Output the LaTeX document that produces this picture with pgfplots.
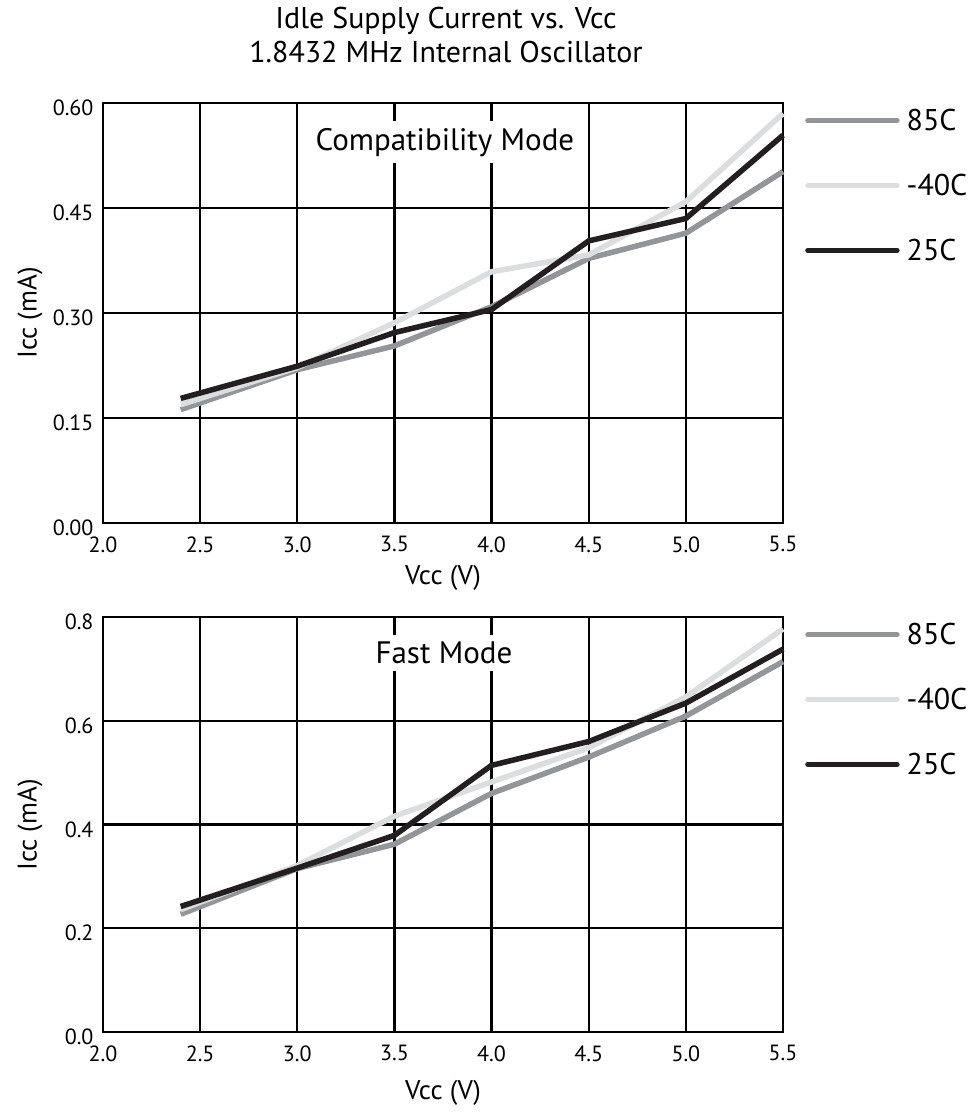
\documentclass[border=0pt]{standalone}
\usepackage{fontspec}
\setmainfont{PT Sans}
\usepackage{pgfplots}
\pgfplotsset{compat=1.18}
\definecolor{c85}{HTML}{939598}
\definecolor{c40}{HTML}{DCDDDE}
\definecolor{c25}{HTML}{231F20}
\tikzset{
  ann/.style={fill=white, inner xsep=6pt, inner ysep=7pt, font=\fontsize{31}{31}\selectfont},
}
\pgfplotsset{
  myaxis/.style={
    scale only axis, width=680pt, anchor=south west,
    xmin=2, xmax=5.5, xtick={2,2.5,3,3.5,4,4.5,5,5.5},
    grid=major, major grid style={black, line width=2.2pt},
    axis line style={black, line width=2.5pt},
    tick style={draw=none},
    clip=false,
    /pgf/number format/assume math mode=true,
    tick label style={font=\fontsize{22}{22}\selectfont},
    xticklabel style={yshift=-10pt, /pgf/number format/.cd, fixed, fixed zerofill, precision=1},
    legend style={draw=none, fill=none, anchor=north west, at={(rel axis cs:1,1)}, xshift=22pt, yshift=-6pt,
      font=\fontsize{30}{30}\selectfont, row sep=42pt, inner sep=0pt, column sep=0pt,
      nodes={inner sep=0pt}},
    legend cell align=left,
    legend image code/.code={\draw[#1, line cap=round] (0pt,0pt) -- (89pt,0pt); \path (96pt,0pt);},
  },
  s85/.style={c85, line width=5.5pt},
  s40/.style={c40, line width=5.5pt},
  s25/.style={c25, line width=5.5pt},
}
\begin{document}
\begin{tikzpicture}
\path[use as bounding box] (0,0) rectangle (979pt,1112pt);
\node[font=\fontsize{30}{30}\selectfont, anchor=base] at (446pt,1083pt) {Idle Supply Current vs. Vcc};
\node[font=\fontsize{30}{30}\selectfont, anchor=base] at (446pt,1049pt) {1.8432 MHz Internal Oscillator};
\begin{axis}[myaxis, at={(103pt,589pt)}, height=420pt,
  ymin=0, ymax=0.6, ytick={0,0.15,0.3,0.45,0.6},
  yticklabel style={xshift=-6pt, yshift=-5pt, /pgf/number format/.cd, fixed, fixed zerofill, precision=2}]
\addplot[s85] coordinates {(2.4,0.162) (3.0,0.219) (3.5,0.253) (4.0,0.309) (4.5,0.378) (5.0,0.414) (5.5,0.502)};
\addplot[s40] coordinates {(2.4,0.169) (3.0,0.222) (3.5,0.286) (4.0,0.359) (4.5,0.383) (5.0,0.459) (5.5,0.585)};
\addplot[s25] coordinates {(2.4,0.178) (3.0,0.224) (3.5,0.272) (4.0,0.305) (4.5,0.403) (5.0,0.435) (5.5,0.554)};
\legend{85C,-40C,25C}
\node[ann] at (axis cs:3.76,0.544) {Compatibility Mode};
\end{axis}
\begin{axis}[myaxis, at={(103pt,80pt)}, height=415pt,
  ymin=0, ymax=0.8, ytick={0,0.2,0.4,0.6,0.8},
  yticklabel style={xshift=-6pt, yshift=-5pt, /pgf/number format/.cd, fixed, fixed zerofill, precision=1}]
\addplot[s85] coordinates {(2.4,0.227) (3.0,0.315) (3.5,0.362) (4.0,0.460) (4.5,0.530) (5.0,0.609) (5.5,0.714)};
\addplot[s40] coordinates {(2.4,0.236) (3.0,0.321) (3.5,0.416) (4.0,0.482) (4.5,0.548) (5.0,0.646) (5.5,0.777)};
\addplot[s25] coordinates {(2.4,0.242) (3.0,0.316) (3.5,0.379) (4.0,0.514) (4.5,0.560) (5.0,0.634) (5.5,0.738)};
\legend{85C,-40C,25C}
\node[ann] at (axis cs:3.755,0.730) {Fast Mode};
\end{axis}
\node[font=\fontsize{27}{27}\selectfont] at (443pt,534pt) {Vcc (V)};
\node[font=\fontsize{27}{27}\selectfont] at (443pt,19pt) {Vcc (V)};
\node[font=\fontsize{27}{27}\selectfont, rotate=90] at (30pt,799pt) {Icc (mA)};
\node[font=\fontsize{27}{27}\selectfont, rotate=90] at (30pt,287pt) {Icc (mA)};
\end{tikzpicture}
\end{document}
